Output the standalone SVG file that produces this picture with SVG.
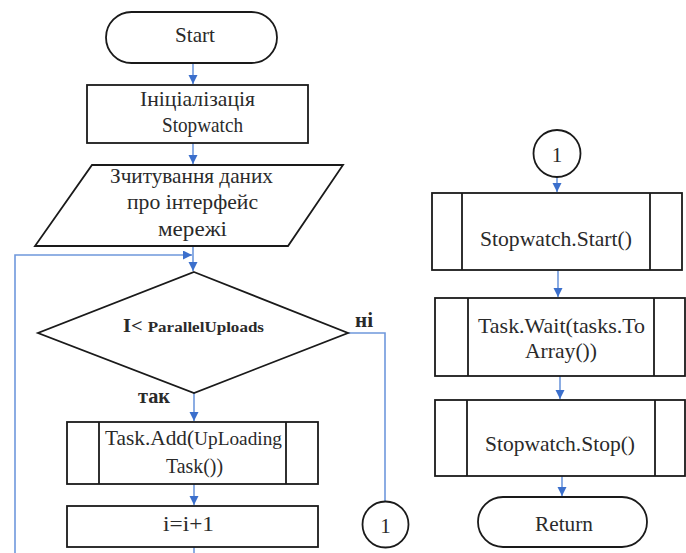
<svg xmlns="http://www.w3.org/2000/svg" width="686" height="553" viewBox="0 0 686 553">
<style>
.s{fill:#fff;stroke:#1a1a1a;stroke-width:1.8}
.t{font-family:'Liberation Serif','Times New Roman',serif;fill:#2a2a2a;font-size:21px}
.b{font-weight:bold}
.c{fill:none;stroke:#6f98dc;stroke-width:1.6}
</style>
<defs>
<marker id="a" markerUnits="userSpaceOnUse" markerWidth="10" markerHeight="10" refX="9" refY="4.5" orient="auto">
<path d="M0,0 L9,4.5 L0,9 Z" fill="#3b6fcc"/>
</marker>
</defs>
<rect width="686" height="553" fill="#fff"/>
<g id="connectors">
<line class="c" x1="193" y1="63" x2="193" y2="84" marker-end="url(#a)"/>
<line class="c" x1="193" y1="143" x2="193" y2="164" marker-end="url(#a)"/>
<line class="c" x1="193" y1="246" x2="193" y2="271" marker-end="url(#a)"/>
<polyline class="c" points="15,553 15,255 192,255" marker-end="url(#a)"/>
<line class="c" x1="194" y1="393" x2="194" y2="421" marker-end="url(#a)"/>
<line class="c" x1="194" y1="484" x2="194" y2="505" marker-end="url(#a)"/>
<line class="c" x1="194" y1="547" x2="194" y2="553"/>
<polyline class="c" points="348,333 385,333 385,501"/>
<line class="c" x1="557" y1="177" x2="557" y2="192" marker-end="url(#a)"/>
<line class="c" x1="558" y1="270" x2="558" y2="297" marker-end="url(#a)"/>
<line class="c" x1="560" y1="376" x2="560" y2="399" marker-end="url(#a)"/>
<line class="c" x1="562" y1="476" x2="562" y2="496" marker-end="url(#a)"/>
</g>
<g id="start">
<rect class="s" x="106" y="12" width="171" height="51" rx="25.5"/>
<text class="t" x="175" y="42" textLength="40" lengthAdjust="spacingAndGlyphs">Start</text>
</g>
<g id="init">
<rect class="s" x="87" y="85" width="221" height="58"/>
<text class="t" x="140" y="106" textLength="115" lengthAdjust="spacingAndGlyphs">Ініціалізація</text>
<text class="t" x="162" y="132" textLength="81" lengthAdjust="spacingAndGlyphs">Stopwatch</text>
</g>
<g id="read">
<polygon class="s" points="92,165 343,165 288,246 35,246"/>
<text class="t" x="110" y="183" textLength="163" lengthAdjust="spacingAndGlyphs">Зчитування даних</text>
<text class="t" x="127" y="209" textLength="131" lengthAdjust="spacingAndGlyphs">про інтерфейс</text>
<text class="t" x="158" y="236" textLength="69" lengthAdjust="spacingAndGlyphs">мережі</text>
</g>
<g id="cond">
<polygon class="s" points="194,272 348,333 194,393 38,333"/>
<text class="t b" x="123" y="332" textLength="141" lengthAdjust="spacingAndGlyphs"><tspan font-size="18">I&lt; </tspan><tspan font-size="15">ParallelUploads</tspan></text>
</g>
<text class="t b" x="355" y="327" font-size="17" textLength="18" lengthAdjust="spacingAndGlyphs">ні</text>
<text class="t b" x="138" y="403" font-size="17" textLength="32" lengthAdjust="spacingAndGlyphs">так</text>
<g id="add">
<rect class="s" x="67" y="422" width="251" height="62"/>
<line class="s" x1="99" y1="422" x2="99" y2="484"/>
<line class="s" x1="286" y1="422" x2="286" y2="484"/>
<text class="t" x="105" y="445" textLength="177" lengthAdjust="spacingAndGlyphs">Task.Add(<tspan font-size="19">UpLoading</tspan></text>
<text class="t" x="166" y="473" font-size="19" textLength="57" lengthAdjust="spacingAndGlyphs">Task())</text>
</g>
<g id="inc">
<rect class="s" x="67" y="506" width="251" height="41"/>
<text class="t" x="163" y="531" font-size="20" textLength="51" lengthAdjust="spacingAndGlyphs">i=i+1</text>
</g>
<g id="conn1">
<circle class="s" cx="385.5" cy="524.5" r="23"/>
<text class="t" x="385.5" y="533" font-size="25" text-anchor="middle">1</text>
</g>
<g id="conn2">
<circle class="s" cx="557" cy="153.5" r="23.5"/>
<text class="t" x="557" y="162" font-size="25" text-anchor="middle">1</text>
</g>
<g id="swstart">
<rect class="s" x="432" y="193" width="250" height="77"/>
<line class="s" x1="462" y1="193" x2="462" y2="270"/>
<line class="s" x1="650" y1="193" x2="650" y2="270"/>
<text class="t" x="480" y="246" textLength="152" lengthAdjust="spacingAndGlyphs">Stopwatch.Start()</text>
</g>
<g id="wait">
<rect class="s" x="435" y="298" width="250" height="78"/>
<line class="s" x1="468" y1="298" x2="468" y2="376"/>
<line class="s" x1="654" y1="298" x2="654" y2="376"/>
<text class="t" x="478" y="333" textLength="167" lengthAdjust="spacingAndGlyphs">Task.Wait(tasks.To</text>
<text class="t" x="525" y="358" textLength="72" lengthAdjust="spacingAndGlyphs">Array())</text>
</g>
<g id="swstop">
<rect class="s" x="435" y="400" width="250" height="76"/>
<line class="s" x1="467" y1="400" x2="467" y2="476"/>
<line class="s" x1="655" y1="400" x2="655" y2="476"/>
<text class="t" x="485" y="451" textLength="150" lengthAdjust="spacingAndGlyphs">Stopwatch.Stop()</text>
</g>
<g id="return">
<rect class="s" x="478" y="497" width="169" height="50" rx="25"/>
<text class="t" x="535" y="531" textLength="58" lengthAdjust="spacingAndGlyphs">Return</text>
</g>
</svg>
